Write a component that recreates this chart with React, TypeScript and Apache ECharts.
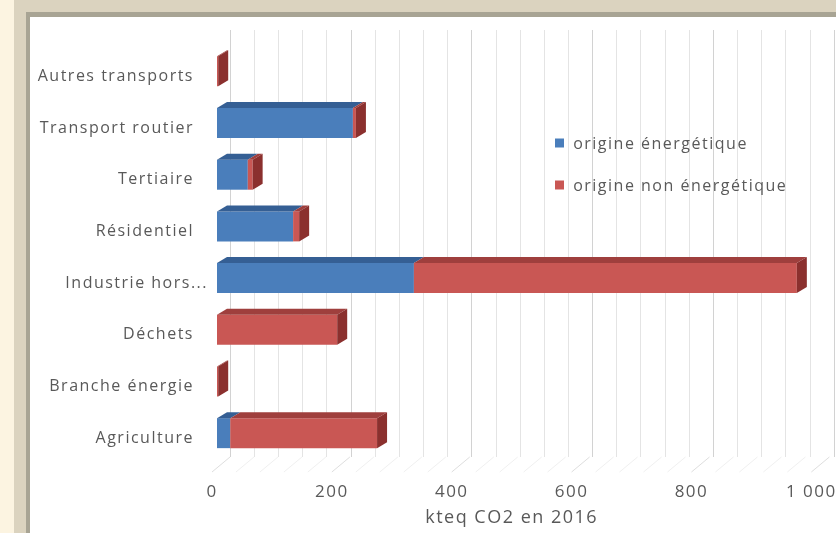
import React, { useEffect, useRef } from "react";
import * as echarts from "echarts";

// Émissions de GES par secteur (kteq CO2, 2016)
const categories = [
  "Autres transports",
  "Transport routier",
  "Tertiaire",
  "Résidentiel",
  "Industrie hors...",
  "Déchets",
  "Branche énergie",
  "Agriculture",
];
const energetique = [0, 225, 51, 126, 326, 0, 0, 22];
const nonEnergetique = [2, 5, 8, 10, 634, 199, 2, 243];
const axisTicks = [0, 200, 400, 600, 800, 1000];
const MINOR_SPLITS = 5;

const seriesNames = ["origine énergétique", "origine non énergétique"];

const FONT = "'Open Sans', sans-serif";
const TEXT = "#595959";

// oblique depth of the bars and of the wall
const BAR_DX = 10;
const BAR_DY = 6;
const WALL_DX = 18;
const WALL_DY = 15;

function barSeries(
  name: string,
  front: string,
  topFace: string,
  sideFace: string,
  data: number[][]
) {
  return {
    type: "custom",
    name,
    xAxisIndex: 1,
    yAxisIndex: 1,
    silent: true,
    itemStyle: { color: front },
    encode: { x: [0, 1], y: 2 },
    data,
    renderItem: (_params: any, api: any) => {
      const start = api.value(0);
      const end = api.value(1);
      const ci = api.value(2);
      const withSide = api.value(3) === 1;
      const p0 = api.coord([start, ci]);
      const p1 = api.coord([end, ci]);
      const h = api.size([0, 1])[1] * 0.58;
      const x0 = p0[0];
      const x1 = p1[0];
      const top = p0[1] - h / 2;
      const bottom = p0[1] + h / 2;
      const children: any[] = [];
      if (x1 > x0) {
        children.push({
          type: "rect",
          shape: { x: x0, y: top, width: x1 - x0, height: h },
          style: { fill: front },
        });
        children.push({
          type: "polygon",
          shape: {
            points: [
              [x0, top],
              [x0 + BAR_DX, top - BAR_DY],
              [x1 + BAR_DX, top - BAR_DY],
              [x1, top],
            ],
          },
          style: { fill: topFace },
        });
      }
      if (withSide) {
        children.push({
          type: "polygon",
          shape: {
            points: [
              [x1, top],
              [x1 + BAR_DX, top - BAR_DY],
              [x1 + BAR_DX, bottom - BAR_DY],
              [x1, bottom],
            ],
          },
          style: { fill: sideFace },
        });
      }
      return { type: "group", children };
    },
  };
}

export default function App() {
  const ref = useRef<HTMLDivElement>(null);

  useEffect(() => {
    if (!ref.current) return;
    const chart = echarts.init(ref.current, undefined, { renderer: "svg" });

    const blueData = categories.map((_, i) => [
      0,
      energetique[i],
      i,
      nonEnergetique[i] === 0 ? 1 : 0,
    ]);
    const redData = categories.map((_, i) => [
      energetique[i],
      energetique[i] + nonEnergetique[i],
      i,
      1,
    ]);

    const option: any = {
      animation: false,
      backgroundColor: "transparent",
      graphic: [
        { type: "rect", z: -10, shape: { x: 0, y: 0, width: 836, height: 533 }, style: { fill: "#fcf4e1" } },
        { type: "rect", z: -10, shape: { x: 14, y: 0, width: 822, height: 533 }, style: { fill: "#dbd3bf" } },
        { type: "rect", z: -10, shape: { x: 26, y: 12, width: 810, height: 521 }, style: { fill: "#a8a494" } },
        { type: "rect", z: -10, shape: { x: 30, y: 17, width: 806, height: 516 }, style: { fill: "#ffffff" } },
      ],
      grid: [
        // front plane: floor edge and tick labels
        { left: 212, width: 604, top: 40, bottom: 61 },
        // plane of the bars
        { left: 217, width: 604, top: 45.5, bottom: 74 },
        // back wall
        { left: 230, width: 604, top: 30, bottom: 76 },
      ],
      xAxis: [
        {
          gridIndex: 0,
          type: "value",
          min: 0,
          max: 1000,
          interval: 200,
          axisLine: { show: false },
          axisTick: { show: false },
          splitLine: { show: false },
          axisLabel: {
            color: TEXT,
            fontFamily: FONT,
            fontSize: 17,
            margin: 10,
            formatter: (v: number) =>
              String(v).replace(/\B(?=(\d{3})+(?!\d))/g, " "),
          },
          name: "kteq CO2 en 2016",
          nameLocation: "middle",
          nameGap: 35,
          nameTextStyle: { color: TEXT, fontFamily: FONT, fontSize: 18 },
        },
        {
          gridIndex: 1,
          type: "value",
          min: 0,
          max: 1000,
          show: false,
        },
        {
          gridIndex: 2,
          type: "value",
          min: 0,
          max: 1000,
          interval: 200,
          axisLine: { show: false },
          axisTick: { show: false },
          axisLabel: { show: false },
          splitLine: { show: true, lineStyle: { color: "#d2d2d2", width: 1 } },
          minorTick: { show: false, splitNumber: MINOR_SPLITS },
          minorSplitLine: { show: true, lineStyle: { color: "#e4e4e4", width: 1 } },
        },
      ],
      yAxis: [
        { gridIndex: 0, type: "value", min: 0, max: 1, show: false },
        {
          gridIndex: 1,
          type: "category",
          inverse: true,
          data: categories,
          axisLine: { show: false },
          axisTick: { show: false },
          splitLine: { show: false },
          axisLabel: {
            margin: 9,
            color: TEXT,
            fontFamily: FONT,
            fontSize: 16,
            formatter: (v: string) =>
              v.endsWith("...") ? `{t|${v}}` : `{p|${v}}`,
            rich: {
              t: { color: TEXT, fontFamily: FONT, fontSize: 16, padding: [7, 0, 0, 0] },
              p: { color: TEXT, fontFamily: FONT, fontSize: 16, padding: [7, 14, 0, 0] },
            },
          },
        },
        { gridIndex: 2, type: "value", min: 0, max: 1, show: false },
      ],
      legend: {
        orient: "vertical",
        left: 550,
        top: 129,
        itemWidth: 9,
        itemHeight: 9,
        itemGap: 24,
        icon: "rect",
        data: seriesNames,
        selectedMode: false,
        formatter: (name: string) => "\u2009" + name,
        textStyle: {
          color: TEXT,
          fontFamily: FONT,
          fontSize: 16,
          lineHeight: 18,
        },
      },
      series: [
        {
          // floor edges running from the front plane to the back wall
          type: "custom",
          name: "floor",
          xAxisIndex: 0,
          yAxisIndex: 0,
          silent: true,
          encode: { x: 0, y: 1 },
          data: [[0, 0]],
          z: 0,
          renderItem: (_p: any, api: any) => {
            const children: any[] = [];
            axisTicks.forEach((v, k) => {
              const f = api.coord([v, 0]);
              children.push({
                type: "line",
                shape: { x1: f[0], y1: f[1], x2: f[0] + WALL_DX, y2: f[1] - WALL_DY },
                style: { stroke: "#dedede", lineWidth: 1 },
              });
              const next = axisTicks[k + 1];
              if (next === undefined) return;
              for (let s = 1; s < MINOR_SPLITS; s++) {
                const m = api.coord([v + ((next - v) * s) / MINOR_SPLITS, 0]);
                children.push({
                  type: "line",
                  shape: { x1: m[0], y1: m[1], x2: m[0] + WALL_DX, y2: m[1] - WALL_DY },
                  style: { stroke: "#f0f0f0", lineWidth: 1 },
                });
              }
            });
            return { type: "group", children };
          },
        },
        barSeries(seriesNames[0], "#4a7ebb", "#355f94", "#2f5585", blueData),
        barSeries(seriesNames[1], "#c95754", "#9f3f3d", "#8b302e", redData),
      ],
    };

    chart.setOption(option);
    return () => chart.dispose();
  }, []);

  return (
    <div
      ref={ref}
      style={{
        position: "fixed",
        left: 0,
        top: 0,
        width: 836,
        height: 533,
        letterSpacing: "1.5px",
      }}
    />
  );
}
